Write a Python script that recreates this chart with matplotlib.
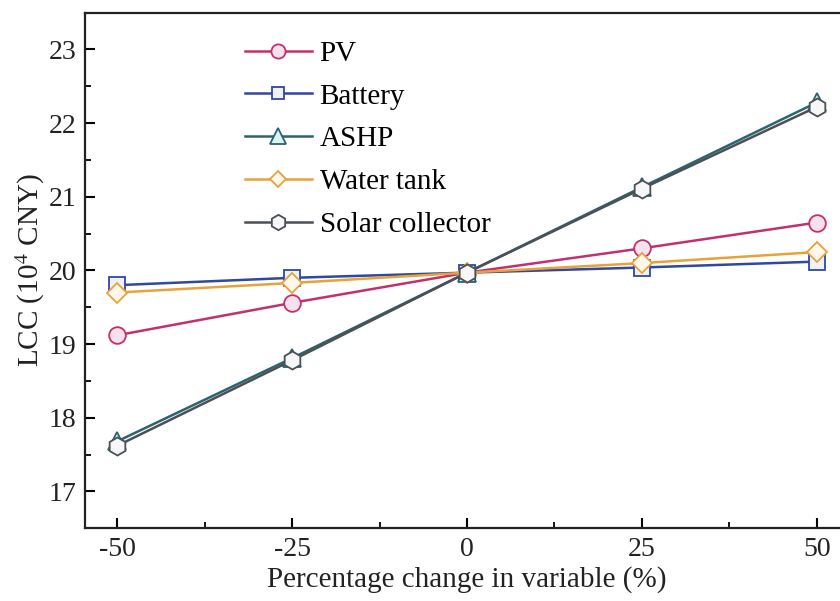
import matplotlib
matplotlib.use("Agg")
import matplotlib.pyplot as plt
from matplotlib.ticker import MultipleLocator

plt.rcParams["font.family"] = ["Liberation Serif", "DejaVu Serif"]
plt.rcParams["mathtext.fontset"] = "stix"
plt.rcParams["axes.unicode_minus"] = False

change = [-50, -25, 0, 25, 50]
pv = [19.12, 19.56, 19.97, 20.30, 20.65]
battery = [19.80, 19.90, 19.97, 20.04, 20.12]
ashp = [17.68, 18.81, 19.97, 21.13, 22.28]
water_tank = [19.70, 19.83, 19.97, 20.10, 20.25]
solar_collector = [17.62, 18.78, 19.97, 21.11, 22.22]

labels = ["PV", "Battery", "ASHP", "Water tank", "Solar collector"]

fig = plt.figure(figsize=(8.4, 6.01), dpi=100)
ax = fig.add_axes([0.1012, 0.121, 0.9095, 0.858])

styles = [
    (pv, "o", "#C4306E", "#F7E1EC", 12),
    (battery, "s", "#2F48A0", "#EEF1FA", 11),
    (ashp, "^", "#2A6470", "#DDF3F3", 13),
    (water_tank, "D", "#E8A23A", "#FFF8EA", 10),
    (solar_collector, "h", "#4B5056", "#F7F7F7", 13),
]

for (vals, mk, col, face, ms), lab in zip(styles, labels):
    ax.plot(change, vals, marker=mk, color=col, markerfacecolor=face,
            markeredgecolor=col, markersize=ms, markeredgewidth=1.3,
            linewidth=1.8, label=lab)

ax.set_xlim(-54.6, 54.6)
ax.set_ylim(16.5, 23.5)
ax.xaxis.set_major_locator(MultipleLocator(25))
ax.xaxis.set_minor_locator(MultipleLocator(12.5))
ax.yaxis.set_major_locator(MultipleLocator(1))
ax.yaxis.set_minor_locator(MultipleLocator(0.5))
ax.tick_params(which="major", direction="in", length=7, width=1.5,
               labelsize=20, pad=6, right=False, top=False,
               labelcolor="#222222")
ax.tick_params(which="minor", direction="in", length=4, width=1.3,
               right=False, top=False)
for s in ax.spines.values():
    s.set_linewidth(1.6)
    s.set_color("#222222")

ax.set_xlabel("Percentage change in variable (%)", fontsize=21, labelpad=3,
              color="#222222")
ax.set_ylabel("LCC (10$^4$ CNY)", fontsize=21, labelpad=1.5, color="#222222")

ax.legend(loc="upper left", bbox_to_anchor=(0.209, 0.946), frameon=False,
          fontsize=21, handlelength=2.3, handletextpad=0.27,
          labelspacing=0.56, borderpad=0, borderaxespad=0, markerscale=0.85)

fig.savefig("out.png", dpi=100)
